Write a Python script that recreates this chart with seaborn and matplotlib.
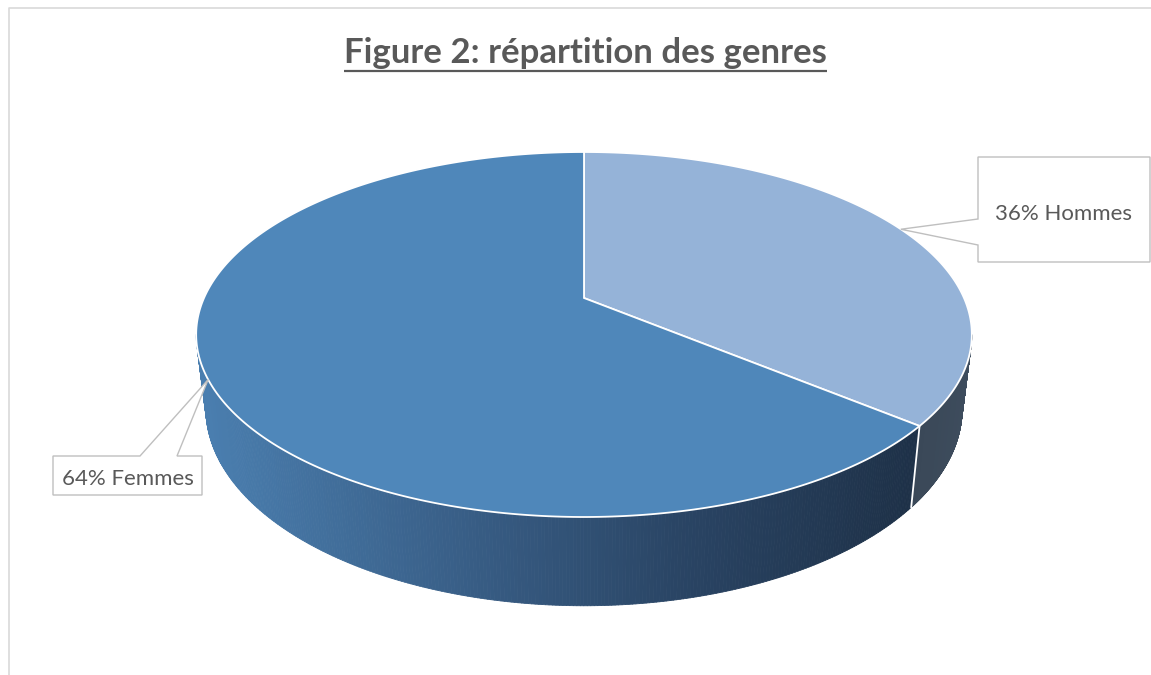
import numpy as np
import matplotlib
matplotlib.use("Agg")
import matplotlib.pyplot as plt
from matplotlib.patches import Polygon
from matplotlib.collections import PolyCollection
import seaborn as sns

# -----------------------------
# DATA
# -----------------------------
labels = ["Hommes", "Femmes"]
values = [36, 64]
top_colors = ["#95B3D8", "#4F87BA"]
title = "Figure 2: répartition des genres"

# -----------------------------
# STYLE
# -----------------------------
sns.set_theme(style="white")
plt.rcParams["font.family"] = ["Lato", "DejaVu Sans"]
text_color = "#595959"
box_color = "#BFBFBF"

# -----------------------------
# 3D PIE GEOMETRY (perspective projection of a flat cylinder)
# -----------------------------
cx, cy = 584, 298          # projected pie centre
rx, ry = 380, 175.2        # radii of the top disc
persp = 0.2                # perspective strength
depth = 71                 # thickness of the pie
shrink = 0.975             # bottom rim slightly narrower


def proj(theta, bottom=False):
    t = np.radians(theta)
    u, v = np.sin(t), -np.cos(t)
    den = 1 - persp * v
    x = cx + rx * u / den
    y = cy + ry * v / den
    if bottom:
        x = cx + (x - cx) * shrink
        y = y + depth / den
    return x, y


fig = plt.figure(figsize=(11.51, 6.75), dpi=100)
ax = fig.add_axes([0, 0, 1, 1])
ax.set_xlim(0, 1151)
ax.set_ylim(675, 0)
ax.axis("off")

# slice angles, clockwise from 12 o'clock
total = sum(values)
bounds = np.concatenate([[0], np.cumsum(values) / total * 360])

# -----------------------------
# SIDE OF THE PIE
# -----------------------------
vis0 = np.degrees(np.arccos(-persp))
vis1 = 360 - vis0
side_grad = sns.blend_palette(["#4A7EAF", "#3A618A", "#2A4565", "#1E3148"], 200)
side_hommes = sns.blend_palette(["#3F4E5F", "#3A4858"], 20)

quads, cols = [], []
for i in range(len(values)):
    a0 = max(bounds[i], vis0)
    a1 = min(bounds[i + 1], vis1)
    if a1 <= a0:
        continue
    th = np.linspace(a0, a1, 300)
    for j in range(len(th) - 1):
        xt0, yt0 = proj(th[j])
        xt1, yt1 = proj(th[j + 1])
        xb0, yb0 = proj(th[j], True)
        xb1, yb1 = proj(th[j + 1], True)
        quads.append([(xt0, yt0), (xt1, yt1), (xb1, yb1), (xb0, yb0)])
        if i == 0:
            k = int((j / (len(th) - 1)) * (len(side_hommes) - 1))
            cols.append(side_hommes[k])
        else:
            frac = np.clip((xt0 - 200) / (915 - 200), 0, 1)
            cols.append(side_grad[int(frac * (len(side_grad) - 1))])

ax.add_collection(PolyCollection(quads, facecolors=cols, edgecolors=cols,
                                 linewidths=0.6, zorder=1))

# white edge between slices on the side
for b in bounds[1:-1]:
    if vis0 <= b <= vis1:
        x0, y0 = proj(b)
        x1, y1 = proj(b, True)
        ax.plot([x0, x1], [y0, y1], color="white", lw=1.3, zorder=2)

# -----------------------------
# TOP OF THE PIE
# -----------------------------
for i in range(len(values)):
    th = np.linspace(bounds[i], bounds[i + 1], 300)
    pts = [(cx, cy)] + [proj(t) for t in th]
    ax.add_patch(Polygon(pts, closed=True, facecolor=top_colors[i],
                         edgecolor="white", lw=1.3, zorder=3))

# -----------------------------
# CALLOUT LABELS
# -----------------------------
boxes = {
    "Hommes": dict(x0=978, y0=157, x1=1150, y1=262, side="left", p0=219, p1=245, ty=219.5),
    "Femmes": dict(x0=53, y0=456, x1=202, y1=495, side="top", p0=140, p1=177, ty=485),
}
for i, lab in enumerate(labels):
    mid = (bounds[i] + bounds[i + 1]) / 2
    tip = proj(mid)
    b = boxes[lab]
    if b["side"] == "left":
        pts = [(b["x0"], b["y0"]), (b["x1"], b["y0"]), (b["x1"], b["y1"]),
               (b["x0"], b["y1"]), (b["x0"], b["p1"]), tip, (b["x0"], b["p0"])]
    else:
        pts = [(b["x0"], b["y0"]), (b["p0"], b["y0"]), tip, (b["p1"], b["y0"]),
               (b["x1"], b["y0"]), (b["x1"], b["y1"]), (b["x0"], b["y1"])]
    ax.add_patch(Polygon(pts, closed=True, facecolor="white",
                         edgecolor=box_color, lw=1.0, zorder=4))
    ax.text((b["x0"] + b["x1"]) / 2, b["ty"],
            f"{values[i]}% {lab}", ha="center", va="baseline",
            fontsize=16, color=text_color, zorder=5)

# -----------------------------
# TITLE WITH UNDERLINE
# -----------------------------
t = ax.text(585.5, 63, title, ha="center", va="baseline", fontsize=25,
            fontweight="bold", color=text_color)
fig.canvas.draw()
bb = t.get_window_extent().transformed(ax.transData.inverted())
ax.plot([bb.x0, bb.x1], [71, 71], color=text_color, lw=1.6,
        solid_capstyle="butt")

# -----------------------------
# CHART BORDER
# -----------------------------
ax.plot([9, 9, 1151], [675, 8, 8], color="#D9D9D9", lw=1.2)

plt.savefig("out.png", dpi=100)
